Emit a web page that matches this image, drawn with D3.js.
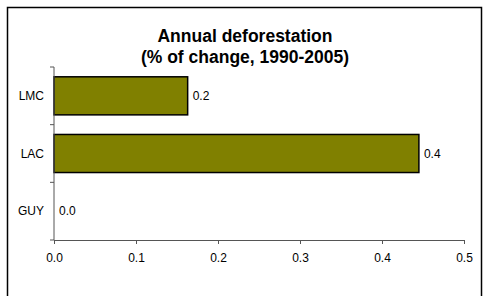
<!DOCTYPE html>
<html>
<head>
<meta charset="utf-8">
<script src="https://cdn.jsdelivr.net/npm/d3@7"></script>
<style>
  body { margin: 0; background: #fff; }
  text { font-family: Arial, "Liberation Sans", sans-serif; }
</style>
</head>
<body>
<div class="canvas"></div>
<script>
const categories = ["LMC", "LAC", "GUY"];
const values = [0.163, 0.445, 0.0];
const valueLabels = ["0.2", "0.4", "0.0"];
const xTicks = [0, 0.1, 0.2, 0.3, 0.4, 0.5];
const titleLines = ["Annual deforestation", "(% of change, 1990-2005)"];

const w = 483;
const h = 296;

const svg = d3.select(".canvas")
  .append("svg")
  .attr("width", w)
  .attr("height", h);

// outer chart frame
svg.append("rect")
  .attr("x", 7.5)
  .attr("y", 7.5)
  .attr("width", 474)
  .attr("height", 300)
  .attr("fill", "none")
  .attr("stroke", "#000")
  .attr("stroke-width", 1.5);

// title
svg.append("g")
  .selectAll("text")
  .data(titleLines)
  .enter()
  .append("text")
  .attr("x", 245)
  .attr("y", (d, i) => 42 + i * 21)
  .attr("text-anchor", "middle")
  .attr("font-size", 17.5)
  .attr("font-weight", "bold")
  .text(d => d);

const margin = { top: 67, left: 54 };
const graphWidth = 410;
const graphHeight = 173;

const graph = svg.append("g")
  .attr("transform", `translate(${margin.left}, ${margin.top})`);

const x = d3.scaleLinear().domain([0, 0.5]).range([0, graphWidth]);
const y = d3.scaleBand()
  .domain(categories)
  .range([0, graphHeight])
  .paddingInner(0.34)
  .paddingOuter(0.17);

// bars
graph.selectAll("rect.bar")
  .data(values)
  .enter()
  .filter(d => d > 0)
  .append("rect")
  .attr("class", "bar")
  .attr("x", 0)
  .attr("y", d => y(categories[values.indexOf(d)]))
  .attr("width", d => x(d))
  .attr("height", y.bandwidth())
  .attr("fill", "#808000")
  .attr("stroke", "#000")
  .attr("stroke-width", 1.5);

// value labels
graph.selectAll("text.val")
  .data(values)
  .enter()
  .append("text")
  .attr("class", "val")
  .attr("x", d => x(d) + 5)
  .attr("y", (d, i) => y(categories[i]) + y.bandwidth() / 2)
  .attr("dy", "0.35em")
  .attr("font-size", 12)
  .text((d, i) => valueLabels[i]);

// x axis
const xAxisGroup = graph.append("g")
  .attr("transform", `translate(0, ${graphHeight})`)
  .call(d3.axisBottom(x).tickValues(xTicks).tickFormat(d3.format(".1f")).tickSize(4).tickSizeOuter(4).tickPadding(9));

// y axis with ticks at band boundaries
const yAxisGroup = graph.append("g");
yAxisGroup.append("line")
  .attr("x1", 0).attr("x2", 0)
  .attr("y1", 0).attr("y2", graphHeight)
  .attr("stroke", "#555");
const step = graphHeight / categories.length;
yAxisGroup.selectAll("line.tick")
  .data(d3.range(categories.length + 1))
  .enter()
  .append("line")
  .attr("class", "tick")
  .attr("x1", -4).attr("x2", 0)
  .attr("y1", d => d * step).attr("y2", d => d * step)
  .attr("stroke", "#555");
yAxisGroup.selectAll("text")
  .data(categories)
  .enter()
  .append("text")
  .attr("x", -10)
  .attr("y", d => y(d) + y.bandwidth() / 2)
  .attr("dy", "0.35em")
  .attr("text-anchor", "end")
  .attr("font-size", 12)
  .text(d => d);

xAxisGroup.select(".domain").attr("stroke", "#555");
xAxisGroup.selectAll(".tick line").attr("stroke", "#555");
xAxisGroup.selectAll("text")
  .attr("font-size", 12)
  .attr("font-family", "Arial, 'Liberation Sans', sans-serif")
  .attr("fill", "#000");
</script>
</body>
</html>
